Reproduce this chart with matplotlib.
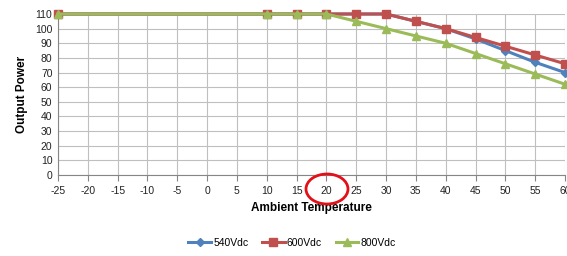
import matplotlib
matplotlib.use("Agg")
import matplotlib.pyplot as plt
from matplotlib.patches import Ellipse

temps = [-25, 10, 15, 20, 25, 30, 35, 40, 45, 50, 55, 60]
p540 = [110, 110, 110, 110, 110, 110, 105, 100, 93, 85, 77, 70]
p600 = [110, 110, 110, 110, 110, 110, 105, 100, 94, 88, 82, 76]
p800 = [110, 110, 110, 110, 105, 100, 95, 90, 83, 76, 69, 62]
xticks = list(range(-25, 61, 5))
yticks = list(range(0, 111, 10))

plt.rcParams['font.family'] = ['Liberation Sans', 'DejaVu Sans']
plt.rcParams['axes.unicode_minus'] = False

W, H = 567, 256
fig = plt.figure(figsize=(W/100, H/100), dpi=100)
ax = fig.add_axes([58/W, 1-175/H, (565-58)/W, (175-14)/H])

ax.plot(temps, p540, color='#4F81BD', lw=2.2, marker='D', ms=4.5, label='540Vdc', clip_on=False, zorder=3)
ax.plot(temps, p600, color='#C0504D', lw=2.2, marker='s', ms=5.5, label='600Vdc', clip_on=False, zorder=4)
ax.plot(temps, p800, color='#9BBB59', lw=2.2, marker='^', ms=6, label='800Vdc', clip_on=False, zorder=5)

ax.set_xlim(-25, 60)
ax.set_ylim(0, 110)
ax.set_xticks(xticks)
ax.set_yticks(yticks)
ax.grid(True, color='#BFBFBF', lw=0.8)
ax.set_axisbelow(True)
for s in ['top', 'right']:
    ax.spines[s].set_visible(False)
for s in ['left', 'bottom']:
    ax.spines[s].set_color('#868686')
ax.tick_params(axis='x', length=4, color='#868686', labelsize=7.5, pad=4, labelcolor='#222222')
ax.tick_params(axis='y', length=0, labelsize=7.5, pad=4, labelcolor='#222222')

ax.set_xlabel('Ambient Temperature', fontsize=8.5, fontweight='bold', labelpad=4)
ax.set_ylabel('Output Power', fontsize=8.5, fontweight='bold', labelpad=5)

fig.legend(loc='center', bbox_to_anchor=(292/W, 1-243/H), ncol=3, frameon=False,
           fontsize=7.5, handlelength=2.2, handletextpad=0.2, columnspacing=1.3)

ell = Ellipse((327/W, 1-189/H), 42/W, 30/H, transform=fig.transFigure,
              fill=False, edgecolor='#E3101A', lw=2.0)
fig.patches.append(ell)

fig.savefig('out.png', dpi=100)
